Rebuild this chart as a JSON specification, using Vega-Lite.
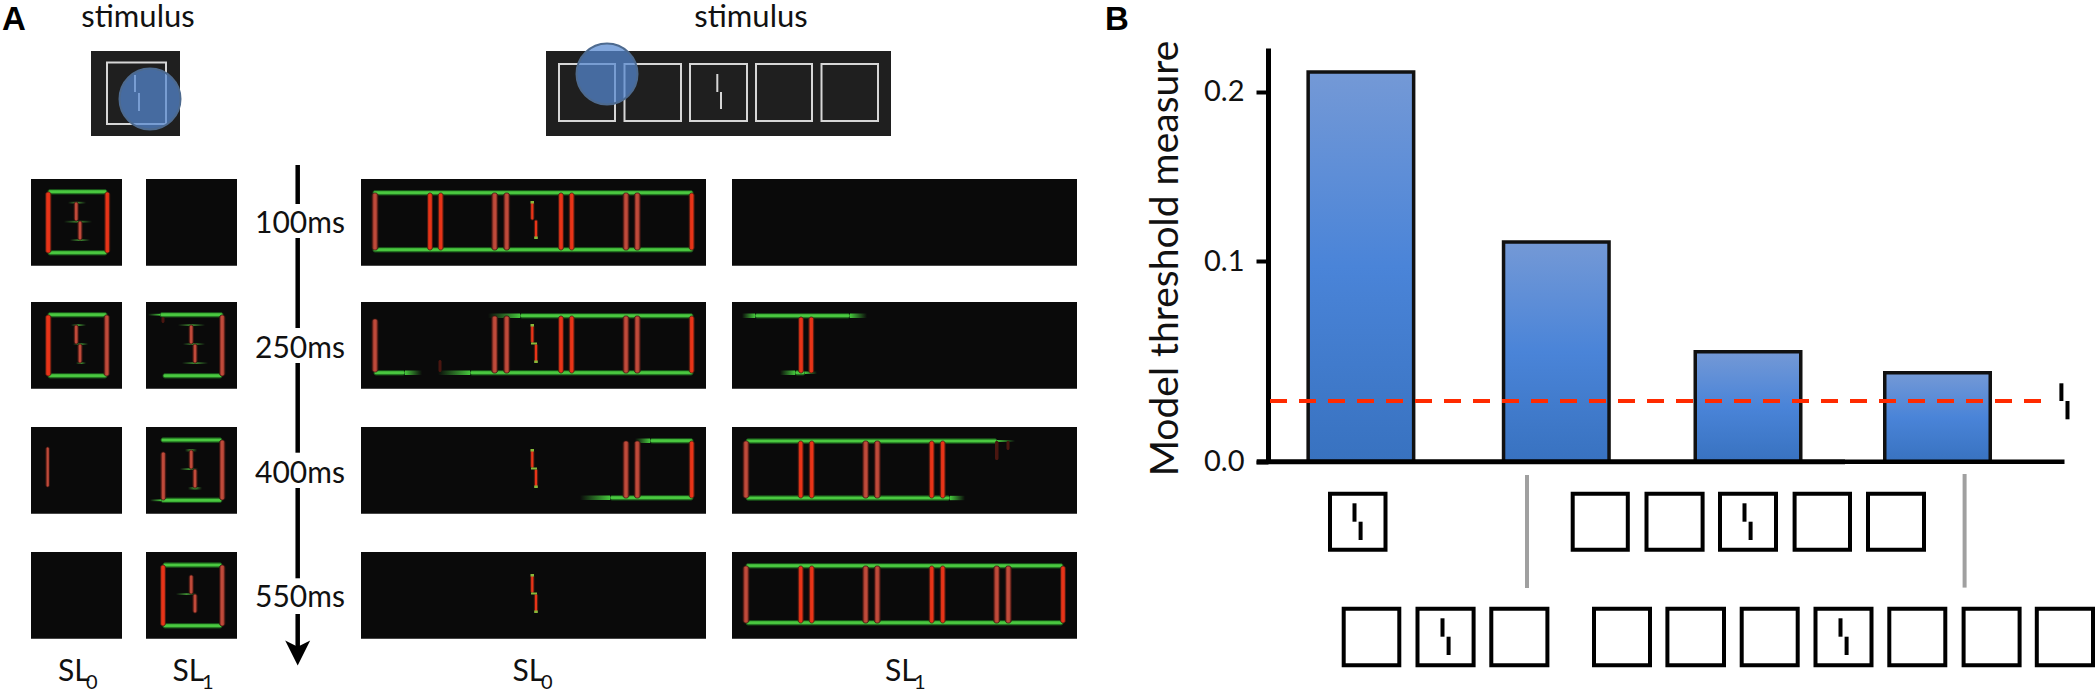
{"$schema":"https://vega.github.io/schema/vega-lite/v6.json","width":2098,"height":694,"autosize":"none","padding":0,"background":"#ffffff","config":{"view":{"stroke":null}},
"datasets":{
"panels":[{"x":31,"x2":122,"y":179,"y2":265.7},{"x":146,"x2":237,"y":179,"y2":265.7},{"x":361,"x2":706,"y":179,"y2":265.7},{"x":732,"x2":1077,"y":179,"y2":265.7},
{"x":31,"x2":122,"y":302,"y2":388.7},{"x":146,"x2":237,"y":302,"y2":388.7},{"x":361,"x2":706,"y":302,"y2":388.7},{"x":732,"x2":1077,"y":302,"y2":388.7},
{"x":31,"x2":122,"y":427,"y2":513.7},{"x":146,"x2":237,"y":427,"y2":513.7},{"x":361,"x2":706,"y":427,"y2":513.7},{"x":732,"x2":1077,"y":427,"y2":513.7},
{"x":31,"x2":122,"y":552,"y2":638.7},{"x":146,"x2":237,"y":552,"y2":638.7},{"x":361,"x2":706,"y":552,"y2":638.7},{"x":732,"x2":1077,"y":552,"y2":638.7}],
"stimPanels":[{"x":91,"x2":180,"y":51,"y2":136},{"x":546,"x2":891,"y":51,"y2":136}],
"stimBoxes":[{"x":107,"x2":166,"y":62.5,"y2":124},{"x":559,"x2":615,"y":64,"y2":121},{"x":624.5,"x2":681,"y":64,"y2":121},{"x":690,"x2":747,"y":64,"y2":121},{"x":756,"x2":812,"y":64,"y2":121},{"x":821.5,"x2":878,"y":64,"y2":121}],
"stimSegs":[{"x":135,"y":75,"y2":92},{"x":139,"y":93,"y2":111},{"x":717.3,"y":74,"y2":92},{"x":721,"y":92,"y2":109}],
"circles":[{"x":150,"y":99},{"x":607,"y":74}],
"green":[{"x":48,"x2":107,"y":189.5,"y2":194},{"x":48,"x2":107,"y":250.5,"y2":255},{"x":48,"x2":107,"y":312.5,"y2":317},{"x":48,"x2":107,"y":373.5,"y2":378},
{"x":160,"x2":223,"y":312.5,"y2":317},{"x":163,"x2":222,"y":373.5,"y2":378},{"x":161,"x2":222,"y":437.8,"y2":442.2},{"x":161,"x2":222,"y":498,"y2":502.5},{"x":163,"x2":222,"y":562.8,"y2":567.2},{"x":163,"x2":222,"y":623.5,"y2":628},
{"x":373,"x2":693,"y":190.5,"y2":195},{"x":373,"x2":693,"y":247.5,"y2":252},
{"x":520,"x2":693,"y":313.5,"y2":318},{"x":374,"x2":405,"y":370.5,"y2":375},{"x":470,"x2":693,"y":370.5,"y2":375},
{"x":650,"x2":693,"y":438.5,"y2":443},{"x":610,"x2":693,"y":495.5,"y2":500},
{"x":755,"x2":850,"y":313.5,"y2":318},{"x":795,"x2":805,"y":370.5,"y2":375},
{"x":746,"x2":997,"y":438.8,"y2":443.2},{"x":746,"x2":950,"y":495.8,"y2":500.2},
{"x":746,"x2":1063,"y":563.5,"y2":568},{"x":746,"x2":1063,"y":620.5,"y2":625}],
"fadeL":[{"x":148,"x2":160,"y":313.8,"y2":315.6},{"x":150,"x2":161,"y":499.4,"y2":501.2},{"x":488,"x2":520,"y":313.5,"y2":318},{"x":438,"x2":470,"y":370.5,"y2":375},{"x":635,"x2":650,"y":438.5,"y2":443},{"x":580,"x2":610,"y":495.5,"y2":500},{"x":742,"x2":755,"y":313.5,"y2":318},{"x":780,"x2":795,"y":370.5,"y2":375}],
"fadeR":[{"x":405,"x2":422,"y":370.5,"y2":375},{"x":850,"x2":867,"y":313.5,"y2":318},{"x":805,"x2":817,"y":371.5,"y2":374},{"x":997,"x2":1015,"y":440,"y2":442},{"x":950,"x2":965,"y":495.8,"y2":500.2}],
"fadeB":[{"x":68,"x2":86,"y":201.8,"y2":203.6},{"x":64,"x2":92,"y":220.8,"y2":222.6},{"x":70,"x2":90,"y":239.2,"y2":241},{"x":71,"x2":86,"y":324.2,"y2":326},{"x":73,"x2":88,"y":343.2,"y2":345},{"x":76,"x2":86,"y":362.2,"y2":364},
{"x":178,"x2":205,"y":324.2,"y2":326},{"x":183,"x2":205,"y":343.2,"y2":345},{"x":182,"x2":208,"y":362.2,"y2":364},{"x":185,"x2":197,"y":449,"y2":451.5},{"x":180,"x2":198,"y":468.2,"y2":470},{"x":188,"x2":202,"y":487,"y2":489.5},{"x":176,"x2":197,"y":593.2,"y2":595}],
"tips":[{"x":530.5,"x2":534,"y":201,"y2":203.5},{"x":534.2,"x2":537.8,"y":236.5,"y2":239},{"x":530.5,"x2":534,"y":324,"y2":326.5},{"x":531,"x2":537,"y":342.5,"y2":344.5},{"x":534.2,"x2":537.8,"y":360.5,"y2":363},{"x":530.5,"x2":534,"y":449,"y2":451.5},{"x":531,"x2":537,"y":467.5,"y2":469.5},{"x":534.2,"x2":537.8,"y":485.5,"y2":488},{"x":530.5,"x2":534,"y":574,"y2":576.5},{"x":531,"x2":537,"y":592.5,"y2":594.5},{"x":534.2,"x2":537.8,"y":610.5,"y2":613}],
"redBright":[{"x":45.5,"x2":51,"y":192,"y2":253},{"x":104.8,"x2":109.8,"y":192,"y2":253},{"x":45.5,"x2":51,"y":315,"y2":376},{"x":160.5,"x2":165.5,"y":565,"y2":626},
{"x":427.5,"x2":432.5,"y":193,"y2":250},{"x":438.2,"x2":443.2,"y":193,"y2":250},{"x":558.5,"x2":563.5,"y":193,"y2":250},{"x":569.2,"x2":574.2,"y":193,"y2":250},{"x":689.2,"x2":694.2,"y":193,"y2":250},
{"x":558.5,"x2":563.5,"y":316,"y2":373},{"x":569.2,"x2":574.2,"y":316,"y2":373},{"x":689.2,"x2":694.2,"y":316,"y2":373},{"x":689.2,"x2":694.2,"y":441,"y2":498},
{"x":798.5,"x2":803.5,"y":317,"y2":373},{"x":808.8,"x2":813.8,"y":317,"y2":373},
{"x":798.2,"x2":803.2,"y":441,"y2":498},{"x":809.2,"x2":814.2,"y":441,"y2":498},{"x":929.2,"x2":934.2,"y":441,"y2":498},{"x":940.2,"x2":945.2,"y":441,"y2":498},
{"x":798.2,"x2":803.2,"y":566,"y2":623},{"x":809.2,"x2":814.2,"y":566,"y2":623},{"x":929.2,"x2":934.2,"y":566,"y2":623},{"x":940.2,"x2":945.2,"y":566,"y2":623},{"x":1060.5,"x2":1065.5,"y":566,"y2":623},
{"x":530.6,"x2":534,"y":202,"y2":220},{"x":534.3,"x2":537.7,"y":220,"y2":238},{"x":530.6,"x2":534,"y":325,"y2":343},{"x":534.3,"x2":537.7,"y":344,"y2":362},{"x":530.6,"x2":534,"y":450,"y2":468},{"x":534.3,"x2":537.7,"y":469,"y2":487},{"x":530.6,"x2":534,"y":575,"y2":593},{"x":534.3,"x2":537.7,"y":594,"y2":612}],
"redDim":[{"x":104,"x2":109.5,"y":315,"y2":376},{"x":45.8,"x2":49.5,"y":447,"y2":487},{"x":219.5,"x2":225,"y":315,"y2":376},{"x":219.5,"x2":225,"y":440,"y2":500},{"x":160.8,"x2":165.8,"y":452,"y2":500},{"x":219.5,"x2":225,"y":565,"y2":626},
{"x":74,"x2":78.4,"y":202,"y2":221},{"x":77.8,"x2":82.2,"y":221,"y2":240},{"x":74,"x2":78.4,"y":325,"y2":344},{"x":77.8,"x2":82.2,"y":344,"y2":363},
{"x":189,"x2":193.4,"y":325,"y2":344},{"x":192.8,"x2":197.2,"y":344,"y2":363},{"x":189,"x2":193.4,"y":450,"y2":469},{"x":192.8,"x2":197.2,"y":469,"y2":488},{"x":189,"x2":193.4,"y":575,"y2":594},{"x":192.8,"x2":197.2,"y":594,"y2":613},
{"x":372,"x2":378,"y":193,"y2":250},{"x":491.7,"x2":497.7,"y":193,"y2":250},{"x":503.7,"x2":509.7,"y":193,"y2":250},{"x":623,"x2":629,"y":193,"y2":250},{"x":634.3,"x2":640.3,"y":193,"y2":250},
{"x":372,"x2":378,"y":319,"y2":372},{"x":491.7,"x2":497.7,"y":316,"y2":373},{"x":503.7,"x2":509.7,"y":316,"y2":373},{"x":623,"x2":629,"y":316,"y2":373},{"x":634.3,"x2":640.3,"y":316,"y2":373},
{"x":623,"x2":629,"y":441,"y2":498},{"x":634.3,"x2":640.3,"y":441,"y2":498},
{"x":743,"x2":749,"y":441,"y2":498},{"x":862.7,"x2":868.7,"y":441,"y2":498},{"x":874.3,"x2":880.3,"y":441,"y2":498},
{"x":743,"x2":749,"y":566,"y2":623},{"x":862.7,"x2":868.7,"y":566,"y2":623},{"x":874.3,"x2":880.3,"y":566,"y2":623},{"x":993.7,"x2":999.7,"y":566,"y2":623},{"x":1005.3,"x2":1011.3,"y":566,"y2":623}],
"redFaint":[{"x":161.5,"x2":164.5,"y":317,"y2":323},{"x":438.5,"x2":441.5,"y":360,"y2":372},{"x":995,"x2":998.5,"y":441,"y2":460},{"x":1006.5,"x2":1009.5,"y":441,"y2":450}],
"iconBoxes":[{"x":1330,"x2":1385.5,"y":493.7,"y2":549.7},{"x":1572.7,"x2":1627.8,"y":493.7,"y2":549.7},{"x":1646.5,"x2":1702.6,"y":493.7,"y2":549.7},{"x":1720,"x2":1776,"y":493.7,"y2":549.7},{"x":1794.6,"x2":1850,"y":493.7,"y2":549.7},{"x":1868,"x2":1924,"y":493.7,"y2":549.7},
{"x":1343.7,"x2":1399.3,"y":608.7,"y2":665.3},{"x":1417.5,"x2":1473.6,"y":608.7,"y2":665.3},{"x":1491.3,"x2":1547.4,"y":608.7,"y2":665.3},{"x":1594,"x2":1650,"y":608.7,"y2":665.3},{"x":1667.4,"x2":1724,"y":608.7,"y2":665.3},{"x":1741.7,"x2":1797.7,"y":608.7,"y2":665.3},{"x":1815.5,"x2":1871.5,"y":608.7,"y2":665.3},{"x":1889.3,"x2":1945.3,"y":608.7,"y2":665.3},{"x":1963.6,"x2":2019.6,"y":608.7,"y2":665.3},{"x":2036.8,"x2":2093,"y":608.7,"y2":665.3}],
"blackSegs":[{"x":1354.5,"y":503.3,"y2":521.7},{"x":1360.6,"y":521.7,"y2":540},{"x":1744.5,"y":503.3,"y2":521.7},{"x":1750.6,"y":521.7,"y2":540},{"x":1442.5,"y":618.3,"y2":636.7},{"x":1448.6,"y":636.7,"y2":655},{"x":1840.5,"y":618.3,"y2":636.7},{"x":1846.6,"y":636.7,"y2":655},{"x":2061.4,"y":383.3,"y2":401},{"x":2067.5,"y":401,"y2":419.3}],
"timeline":[{"x":297.7,"y":165,"y2":204},{"x":297.7,"y":238,"y2":328},{"x":297.7,"y":363,"y2":452.7},{"x":297.7,"y":488,"y2":578.3},{"x":297.7,"y":614,"y2":650}],
"arrowHead":[{"x":297.7,"y":653}],
"dividers":[{"x":1527,"y":475,"y2":588},{"x":1964.6,"y":474,"y2":587.6}],
"stimLabels":[{"x":138,"y":27,"t":"stimulus"},{"x":751,"y":27,"t":"stimulus"}],
"labels":[{"x":300,"y":233.3,"t":"100ms"},{"x":300,"y":358,"t":"250ms"},{"x":300,"y":483.3,"t":"400ms"},{"x":300,"y":607.3,"t":"550ms"}],
"slLabels":[{"x":58,"y":681,"t":"SL"},{"x":172.5,"y":681,"t":"SL"},{"x":512.5,"y":681,"t":"SL"},{"x":885,"y":681,"t":"SL"}],
"slSubs":[{"x":86,"y":689,"t":"0"},{"x":202,"y":689,"t":"1"},{"x":541,"y":689,"t":"0"},{"x":914,"y":689,"t":"1"}],
"letters":[{"x":2,"y":30,"t":"A"},{"x":1105,"y":30,"t":"B"}],
"bars":[{"elements":1,"threshold":0.2116},{"elements":3,"threshold":0.1112},{"elements":5,"threshold":0.0548},{"elements":7,"threshold":0.0443}],
"criterion":[{"x":1270,"x2":2041,"v":0.0302}],
"baseThick":[{"x":1256.7,"x2":1845,"v":0}],
"baseThin":[{"x":1845,"x2":2064.5,"v":0}]
},
"resolve":{"scale":{"x":"independent","y":"independent"}},
"layer":[
{"encoding":{"x":{"field":"x","type":"quantitative","scale":{"domain":[0,2098],"nice":false,"zero":false},"axis":null},"y":{"field":"y","type":"quantitative","scale":{"domain":[0,694],"reverse":true,"nice":false,"zero":false},"axis":null}},
"layer":[
{"data":{"name":"panels"},"mark":{"type":"rect","fill":"#0a0a0a"},"encoding":{"x2":{"field":"x2"},"y2":{"field":"y2"}}},
{"data":{"name":"stimPanels"},"mark":{"type":"rect","fill":"#1f1f1f"},"encoding":{"x2":{"field":"x2"},"y2":{"field":"y2"}}},
{"data":{"name":"stimBoxes"},"mark":{"type":"rect","fillOpacity":0,"stroke":"#d6d6d6","strokeWidth":2},"encoding":{"x2":{"field":"x2"},"y2":{"field":"y2"}}},
{"data":{"name":"stimSegs"},"mark":{"type":"rule","stroke":"#d6d6d6","strokeWidth":2},"encoding":{"y2":{"field":"y2"}}},
{"data":{"name":"circles"},"mark":{"type":"point","filled":true,"size":3720,"shape":"circle","fill":"#5588d0","fillOpacity":0.73,"stroke":"#4d6a8f","strokeOpacity":1,"strokeWidth":2}},
{"data":{"name":"green"},"mark":{"type":"rect","cornerRadius":2,"stroke":"#174f17","strokeWidth":1,"fill":{"gradient":"linear","x1":0,"y1":0,"x2":0,"y2":1,"stops":[{"offset":0,"color":"#2a8a28"},{"offset":0.35,"color":"#4ac840"},{"offset":0.65,"color":"#4ac840"},{"offset":1,"color":"#2a8a28"}]}},"encoding":{"x2":{"field":"x2"},"y2":{"field":"y2"}}},
{"data":{"name":"fadeL"},"mark":{"type":"rect","fill":{"gradient":"linear","x1":0,"y1":0,"x2":1,"y2":0,"stops":[{"offset":0,"color":"#0a0a0a"},{"offset":1,"color":"#45c63c"}]}},"encoding":{"x2":{"field":"x2"},"y2":{"field":"y2"}}},
{"data":{"name":"fadeR"},"mark":{"type":"rect","fill":{"gradient":"linear","x1":0,"y1":0,"x2":1,"y2":0,"stops":[{"offset":0,"color":"#45c63c"},{"offset":1,"color":"#0a0a0a"}]}},"encoding":{"x2":{"field":"x2"},"y2":{"field":"y2"}}},
{"data":{"name":"fadeB"},"mark":{"type":"rect","fill":{"gradient":"linear","x1":0,"y1":0,"x2":1,"y2":0,"stops":[{"offset":0,"color":"#0a0a0a"},{"offset":0.5,"color":"#3f8f32"},{"offset":1,"color":"#0a0a0a"}]}},"encoding":{"x2":{"field":"x2"},"y2":{"field":"y2"}}},
{"data":{"name":"redDim"},"mark":{"type":"rect","cornerRadius":2.5,"stroke":"#3a1410","strokeWidth":0.8,"fill":{"gradient":"linear","x1":0,"y1":0,"x2":1,"y2":0,"stops":[{"offset":0,"color":"#5a1f18"},{"offset":0.35,"color":"#c04a3a"},{"offset":0.65,"color":"#c04a3a"},{"offset":1,"color":"#5a1f18"}]}},"encoding":{"x2":{"field":"x2"},"y2":{"field":"y2"}}},
{"data":{"name":"redBright"},"mark":{"type":"rect","cornerRadius":2.5,"stroke":"#4a1a10","strokeWidth":0.8,"fill":{"gradient":"linear","x1":0,"y1":0,"x2":1,"y2":0,"stops":[{"offset":0,"color":"#8a2412"},{"offset":0.3,"color":"#e83418"},{"offset":0.7,"color":"#e83418"},{"offset":1,"color":"#8a2412"}]}},"encoding":{"x2":{"field":"x2"},"y2":{"field":"y2"}}},
{"data":{"name":"redFaint"},"mark":{"type":"rect","cornerRadius":1.5,"fill":"#4a1610"},"encoding":{"x2":{"field":"x2"},"y2":{"field":"y2"}}},
{"data":{"name":"tips"},"mark":{"type":"rect","fill":"#86b83a"},"encoding":{"x2":{"field":"x2"},"y2":{"field":"y2"}}},
{"data":{"name":"timeline"},"mark":{"type":"rule","stroke":"#000000","strokeWidth":4.5},"encoding":{"y2":{"field":"y2"}}},
{"data":{"name":"arrowHead"},"mark":{"type":"point","filled":true,"size":625,"shape":"M-1,-1 L0,-0.5 L1,-1 L0,1 Z","fill":"#000000","fillOpacity":1,"strokeWidth":0}},
{"data":{"name":"dividers"},"mark":{"type":"rule","stroke":"#a0a0a0","strokeWidth":4},"encoding":{"y2":{"field":"y2"}}},
{"data":{"name":"iconBoxes"},"mark":{"type":"rect","fillOpacity":0,"stroke":"#000000","strokeWidth":4},"encoding":{"x2":{"field":"x2"},"y2":{"field":"y2"}}},
{"data":{"name":"blackSegs"},"mark":{"type":"rule","stroke":"#000000","strokeWidth":4},"encoding":{"y2":{"field":"y2"}}},
{"data":{"name":"stimLabels"},"mark":{"type":"text","font":"Lato","fontSize":31,"align":"center","baseline":"alphabetic","color":"#111111"},"encoding":{"text":{"field":"t"}}},
{"data":{"name":"labels"},"mark":{"type":"text","font":"Lato","fontSize":30,"align":"center","baseline":"alphabetic","color":"#111111"},"encoding":{"text":{"field":"t"}}},
{"data":{"name":"slLabels"},"mark":{"type":"text","font":"Lato","fontSize":30,"align":"left","baseline":"alphabetic","color":"#111111"},"encoding":{"text":{"field":"t"}}},
{"data":{"name":"slSubs"},"mark":{"type":"text","font":"Lato","fontSize":20,"align":"left","baseline":"alphabetic","color":"#111111"},"encoding":{"text":{"field":"t"}}},
{"data":{"name":"letters"},"mark":{"type":"text","font":"Liberation Sans","fontWeight":"bold","fontSize":33,"align":"left","baseline":"alphabetic","color":"#000000"},"encoding":{"text":{"field":"t"}}}
]},
{"data":{"name":"bars"},"mark":{"type":"bar","orient":"vertical","width":105.5,"fill":{"gradient":"linear","x1":0,"y1":0,"x2":0,"y2":1,"stops":[{"offset":0,"color":"#7499d6"},{"offset":0.5,"color":"#4a84d8"},{"offset":1,"color":"#3872c0"}]},"stroke":"#111111","strokeWidth":3.5},
"encoding":{"x":{"field":"elements","type":"quantitative","scale":{"domain":[1,3,5,7],"range":[1360.9,1556.3,1748,1937.5],"padding":0,"nice":false,"zero":false},"axis":null},
"y":{"field":"threshold","type":"quantitative","stack":null,"scale":{"domain":[0,0.1,0.2,0.2257],"range":[461.7,261,91.7,48],"nice":false,"zero":false},
"axis":{"orient":"left","offset":-1268,"values":[0,0.1,0.2],"format":".1f","grid":false,"domain":true,"domainWidth":5,"domainColor":"#000000","ticks":true,"tickSize":12,"tickWidth":4,"tickColor":"#000000","labelFont":"Lato","labelFontSize":29,"labelColor":"#111111","labelPadding":12,"labelOverlap":false,"labelFlush":false,"title":"Model threshold measure","titleFont":"Lato","titleFontSize":39,"titleFontWeight":"normal","titleColor":"#111111","titleX":-91,"titleY":258,"titleBaseline":"alphabetic","titleAlign":"center","titleAngle":-90}}}},
{"encoding":{"x":{"field":"x","type":"quantitative","scale":{"domain":[0,2098],"nice":false,"zero":false},"axis":null},"y":{"field":"v","type":"quantitative","scale":{"domain":[0,0.1,0.2,0.2257],"range":[461.7,261,91.7,48],"nice":false,"zero":false},"axis":null},"x2":{"field":"x2"}},
"layer":[
{"data":{"name":"baseThick"},"mark":{"type":"rule","stroke":"#000000","strokeWidth":5}},
{"data":{"name":"baseThin"},"mark":{"type":"rule","stroke":"#000000","strokeWidth":4.5}},
{"data":{"name":"criterion"},"mark":{"type":"rule","stroke":"#ff2a00","strokeWidth":4,"strokeDash":[17,12]}}
]}
]}
